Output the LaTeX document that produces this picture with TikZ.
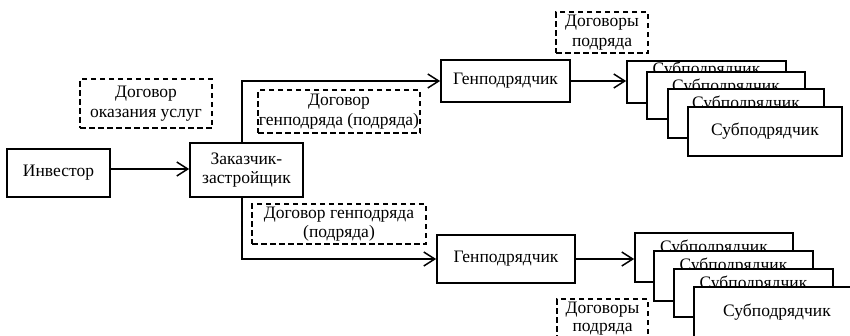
\documentclass[tikz,border=0pt]{standalone}
\usepackage{fontspec}
\setmainfont{Liberation Serif}
\usetikzlibrary{arrows.meta}

\tikzset{
  box/.style={draw, line width=1.7pt, fill=white, align=center, inner sep=0pt},
  dbox/.style={draw, line width=1.2pt, dash pattern=on 5.5pt off 3.5pt, align=center, inner sep=0pt},
  subtext/.style={anchor=north, inner sep=0pt, align=center},
  link/.style={line width=1.6pt, -{Straight Barb[length=11pt,width=14pt,line width=1.5pt]}},
  sz/.style 2 args={minimum width=#1pt, minimum height=#2pt},
}

\begin{document}
\begin{tikzpicture}[x=1pt, y=-1pt, font=\fontsize{17.5}{19.5}\selectfont]
\useasboundingbox (0,0) rectangle (850,335);
\clip (0,0) rectangle (850,335);

% main participants
\node[box, sz={103}{48}] (inv) at (58.5,173) {Инвестор};
\node[box, sz={113}{54}] (zak) at (246.5,170) {Заказчик-\\застройщик};
\node[box, sz={129}{42}] (gen1) at (505.5,81) {Генподрядчик};
\node[box, sz={138}{48}] (gen2) at (506,259) {Генподрядчик};

% contract labels
\node[dbox, sz={132}{49}] (svc) at (146,103.5) {Договор\\оказания услуг};
\node[dbox, sz={162}{43}] (dg1) at (339,111.5) {Договор\\генподряда (подряда)};
\node[dbox, sz={174}{40}] (dg2) at (339,224) {Договор генподряда\\(подряда)};
\node[dbox, sz={92}{41}] (dp1) at (602,32.5) {Договоры\\подряда};
\node[dbox, sz={91}{43}] (dp2) at (602.5,320.5) {};
\node[subtext, font=\fontsize{17.5}{18.5}\selectfont] (dp2t) at ([yshift=-3pt]dp2.north) {Договоры\\подряда};

% upper stack of subcontractors
\node[box, sz={159}{42}] (s1a) at (706.5,82) {};
\node[subtext] (s1at) at ([yshift=-2pt]s1a.north) {Субподрядчик};
\node[box, sz={158}{47}] (s1b) at (726,95.5) {};
\node[subtext] (s1bt) at ([yshift=-8pt]s1b.north) {Субподрядчик};
\node[box, sz={156}{49}] (s1c) at (746,113.5) {};
\node[subtext] (s1ct) at ([yshift=-8pt]s1c.north) {Субподрядчик};
\node[box, sz={154}{49}] (s1d) at (765,131.5) {Субподрядчик};

% lower stack of subcontractors
\node[box, sz={158}{49}] (s2a) at (714,257.5) {};
\node[subtext] (s2at) at ([yshift=-8pt]s2a.north) {Субподрядчик};
\node[box, sz={159}{50}] (s2b) at (733.5,276) {};
\node[subtext] (s2bt) at ([yshift=-8pt]s2b.north) {Субподрядчик};
\node[box, sz={159}{48}] (s2c) at (753.5,293) {};
\node[subtext] (s2ct) at ([yshift=-8pt]s2c.north) {Субподрядчик};
\node[box, sz={166}{50}] (s2d) at (777,312) {Субподрядчик};

% connectors
\coordinate (invout) at ([yshift=4pt]inv.east);
\draw[link] (invout) -- (zak.west |- invout);
\draw[link] ([xshift=-4.5pt]zak.north) |- (gen1.west);
\draw[link] ([xshift=-4.5pt]zak.south) |- (gen2.west);
\draw[link] (gen1.east) -- (s1a.west |- gen1.east);
\draw[link] (gen2.east) -- (s2a.west |- gen2.east);
\end{tikzpicture}
\end{document}
